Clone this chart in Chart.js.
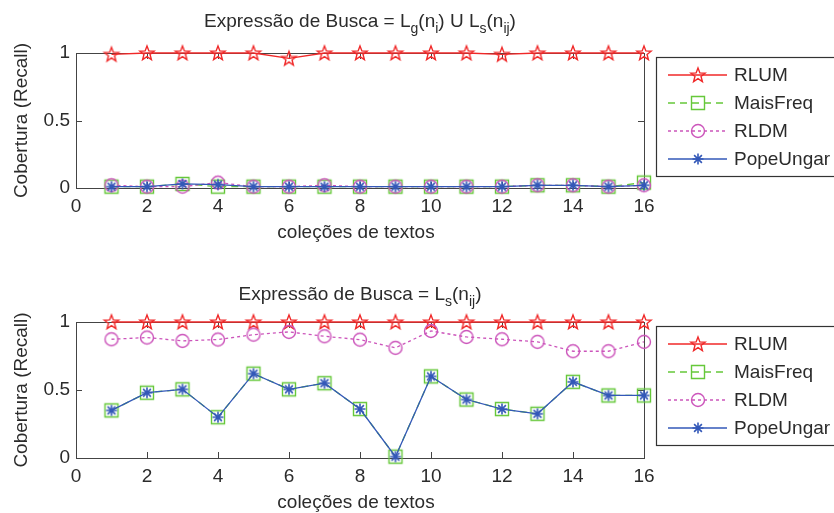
<!DOCTYPE html>
<html>
<head>
<meta charset="utf-8">
<script src="https://cdn.jsdelivr.net/npm/chart.js@4"></script>
<style>
  body { margin: 0; background: #fff; }
  #wrap { position: relative; width: 834px; height: 513px; overflow: hidden; }
  canvas { position: absolute; left: 0; }
</style>
</head>
<body>
<div id="wrap">
  <canvas id="graficoA" width="834" height="256" style="top:0"></canvas>
  <canvas id="graficoB" width="834" height="257" style="top:256px"></canvas>
</div>
<script>
// dados
const colecoes = [1, 2, 3, 4, 5, 6, 7, 8, 9, 10, 11, 12, 13, 14, 15, 16];
const nomes = ['RLUM', 'MaisFreq', 'RLDM', 'PopeUngar'];
const xTicks = [0, 2, 4, 6, 8, 10, 12, 14, 16];
const yTicks = [0, 0.5, 1];
const yTickLabels = ['0', '0.5', '1'];

// Expressão de Busca = Lg(ni) U Ls(nij)
const rlumA = [0.99, 1, 1, 1, 1, 0.96, 1, 1, 1, 1, 1, 0.99, 1, 1, 1, 1];
const maisFreqA = [0.01, 0.01, 0.03, 0.01, 0.01, 0.01, 0.01, 0.01, 0.01, 0.01, 0.01, 0.01, 0.02, 0.02, 0.01, 0.04];
const rldmA = [0.02, 0.01, 0.01, 0.04, 0.01, 0.01, 0.02, 0.01, 0.01, 0.01, 0.01, 0.01, 0.02, 0.02, 0.01, 0.02];
const popeUngarA = [0.01, 0.01, 0.03, 0.025, 0.01, 0.01, 0.01, 0.01, 0.01, 0.01, 0.01, 0.01, 0.02, 0.02, 0.01, 0.02];

// Expressão de Busca = Ls(nij)
const rlumB = [1, 1, 1, 1, 1, 1, 1, 1, 1, 1, 1, 1, 1, 1, 1, 1];
const maisFreqB = [0.35, 0.48, 0.505, 0.3, 0.62, 0.505, 0.55, 0.36, 0.01, 0.6, 0.43, 0.36, 0.325, 0.56, 0.46, 0.46];
const rldmB = [0.873, 0.886, 0.861, 0.871, 0.907, 0.927, 0.895, 0.87, 0.81, 0.934, 0.89, 0.873, 0.854, 0.785, 0.785, 0.854];
const popeUngarB = [0.35, 0.48, 0.505, 0.3, 0.62, 0.505, 0.55, 0.36, 0.01, 0.6, 0.43, 0.36, 0.325, 0.56, 0.46, 0.46];

const fonte = "'Liberation Sans', Arial, sans-serif";
const corTexto = '#2b2b2b';
const cores = ['#f02828', '#66c83a', '#cc55bb', '#3358b8'];
const tracos = [[], [7, 5], [3, 3], []];

function criarMarcador(tipo, cor) {
    const c = document.createElement('canvas');
    c.width = 20; c.height = 20;
    const g = c.getContext('2d');
    g.strokeStyle = cor;
    g.lineWidth = 1.4;
    g.beginPath();
    if (tipo === 'pentagrama') {
        for (let i = 0; i < 10; i++) {
            const r = i % 2 === 0 ? 7.5 : 3.2;
            const a = -Math.PI / 2 + i * Math.PI / 5;
            const px = 10 + r * Math.cos(a), py = 10.5 + r * Math.sin(a);
            if (i === 0) g.moveTo(px, py); else g.lineTo(px, py);
        }
        g.closePath();
    } else if (tipo === 'quadrado') {
        g.rect(3.5, 3.5, 13, 13);
    } else if (tipo === 'circulo') {
        g.arc(10, 10, 6.5, 0, Math.PI * 2);
    } else {
        g.lineWidth = 1.6;
        for (let i = 0; i < 4; i++) {
            const a = i * Math.PI / 4;
            g.moveTo(10 - 5.5 * Math.cos(a), 10 - 5.5 * Math.sin(a));
            g.lineTo(10 + 5.5 * Math.cos(a), 10 + 5.5 * Math.sin(a));
        }
    }
    g.stroke();
    return c;
}

const marcadores = [
    criarMarcador('pentagrama', cores[0]),
    criarMarcador('quadrado', cores[1]),
    criarMarcador('circulo', cores[2]),
    criarMarcador('asterisco', cores[3])
];

// texto com subscritos: [texto, ehSubscrito]
function desenharTitulo(ctx, partes, cx, base) {
    const normal = '19px ' + fonte, sub = '14px ' + fonte;
    let total = 0;
    partes.forEach(p => { ctx.font = p[1] ? sub : normal; total += ctx.measureText(p[0]).width; });
    let x = cx - total / 2;
    ctx.textAlign = 'left';
    ctx.textBaseline = 'alphabetic';
    partes.forEach(p => {
        ctx.font = p[1] ? sub : normal;
        ctx.fillText(p[0], x, p[1] ? base + 6 : base);
        x += ctx.measureText(p[0]).width;
    });
}

const decoracao = {
    id: 'decoracao',
    beforeDatasetsDraw(chart) {
        const ctx = chart.ctx, a = chart.chartArea;
        const sx = chart.scales.x, sy = chart.scales.y;
        ctx.save();
        ctx.strokeStyle = '#444';
        ctx.lineWidth = 1;
        ctx.strokeRect(Math.round(a.left) + 0.5, Math.round(a.top) + 0.5, Math.round(a.width), Math.round(a.height));
        ctx.beginPath();
        xTicks.forEach(v => {
            const px = Math.round(sx.getPixelForValue(v)) + 0.5;
            ctx.moveTo(px, a.bottom); ctx.lineTo(px, a.bottom - 6);
            ctx.moveTo(px, a.top); ctx.lineTo(px, a.top + 6);
        });
        yTicks.forEach(v => {
            const py = Math.round(sy.getPixelForValue(v)) + 0.5;
            ctx.moveTo(a.left, py); ctx.lineTo(a.left + 6, py);
            ctx.moveTo(a.right, py); ctx.lineTo(a.right - 6, py);
        });
        ctx.stroke();
        ctx.restore();
    },
    afterDraw(chart) {
        const op = chart.options.plugins.decoracao;
        const ctx = chart.ctx, a = chart.chartArea;
        ctx.save();
        ctx.fillStyle = corTexto;
        desenharTitulo(ctx, op.titulo, (a.left + a.right) / 2, op.baseTitulo);

        ctx.font = '19px ' + fonte;
        ctx.textAlign = 'center';
        ctx.textBaseline = 'alphabetic';
        ctx.fillText('coleções de textos', (a.left + a.right) / 2 - 4, a.bottom + 50);

        ctx.save();
        ctx.translate(22, (a.top + a.bottom) / 2);
        ctx.rotate(-Math.PI / 2);
        ctx.textBaseline = 'middle';
        ctx.fillText('Cobertura (Recall)', 0, 0);
        ctx.restore();

        // legenda
        const topo = op.topoLegenda;
        ctx.fillStyle = '#fff';
        ctx.fillRect(656, topo, 190, 120);
        ctx.strokeStyle = '#333';
        ctx.lineWidth = 1.2;
        ctx.strokeRect(656.5, topo + 0.5, 190, 119);
        nomes.forEach((nome, i) => {
            const y = topo + 18 + i * 28;
            ctx.strokeStyle = cores[i];
            ctx.lineWidth = 1.3;
            ctx.setLineDash(tracos[i]);
            ctx.beginPath();
            ctx.moveTo(668, y); ctx.lineTo(727, y);
            ctx.stroke();
            ctx.setLineDash([]);
            const m = marcadores[i];
            ctx.drawImage(m, 698 - m.width / 2, y - m.height / 2);
            ctx.fillStyle = corTexto;
            ctx.textAlign = 'left';
            ctx.textBaseline = 'middle';
            ctx.font = '19px ' + fonte;
            ctx.fillText(nome, 734, y + 1);
        });
        ctx.restore();
    }
};

function montarDatasets(valores) {
    const ordem = [3, 2, 1, 0];
    return valores.map((vals, i) => ({
        label: nomes[i],
        data: colecoes.map((c, k) => ({ x: c, y: vals[k] })),
        borderColor: cores[i],
        borderWidth: 1.3,
        borderDash: tracos[i],
        pointStyle: marcadores[i],
        tension: 0,
        clip: false,
        order: ordem[i]
    }));
}

function criarGrafico(id, valores, opDecoracao, padding) {
    return new Chart(document.getElementById(id), {
        type: 'line',
        data: { datasets: montarDatasets(valores) },
        options: {
            responsive: false,
            animation: false,
            layout: { padding: padding },
            scales: {
                x: {
                    type: 'linear', min: 0, max: 16,
                    afterBuildTicks: s => { s.ticks = xTicks.map(v => ({ value: v })); },
                    afterFit: s => { s.height = 50; },
                    grid: { display: false, drawTicks: false },
                    border: { display: false },
                    ticks: { color: corTexto, font: { family: fonte, size: 19 }, padding: 7, maxRotation: 0, autoSkip: false }
                },
                y: {
                    type: 'linear', min: 0, max: 1,
                    afterBuildTicks: s => { s.ticks = yTicks.map(v => ({ value: v })); },
                    afterFit: s => { s.width = 50; },
                    grid: { display: false, drawTicks: false },
                    border: { display: false },
                    ticks: {
                        color: corTexto, font: { family: fonte, size: 19 }, padding: 6,
                        callback: v => yTickLabels[yTicks.indexOf(v)]
                    }
                }
            },
            plugins: {
                legend: { display: false },
                tooltip: { enabled: false },
                decoracao: opDecoracao
            }
        },
        plugins: [decoracao]
    });
}

criarGrafico('graficoA', [rlumA, maisFreqA, rldmA, popeUngarA], {
    titulo: [['Expressão de Busca = L', false], ['g', true], ['(n', false], ['i', true], [') U L', false], ['s', true], ['(n', false], ['ij', true], [')', false]],
    baseTitulo: 27,
    topoLegenda: 57
}, { left: 26, right: 190, top: 53, bottom: 18 });

criarGrafico('graficoB', [rlumB, maisFreqB, rldmB, popeUngarB], {
    titulo: [['Expressão de Busca = L', false], ['s', true], ['(n', false], ['ij', true], [')', false]],
    baseTitulo: 44,
    topoLegenda: 70
}, { left: 26, right: 190, top: 66, bottom: 5 });
</script>
</body>
</html>
